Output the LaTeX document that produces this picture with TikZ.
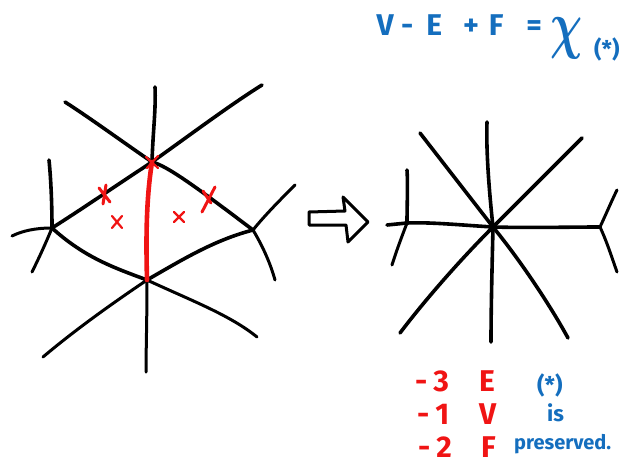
\documentclass[tikz,border=0pt]{standalone}
\usepackage{fontspec}
\setmainfont{Fira Sans}
\usetikzlibrary{calc}
\definecolor{mred}{RGB}{240,20,20}
\definecolor{mblue}{RGB}{20,110,190}
\newcommand{\gl}[1]{\makebox[0pt]{#1}}
\begin{document}
\begin{tikzpicture}[x=1pt,y=-1pt,
  edge/.style={line width=3.6pt,line cap=round,black},
  thin edge/.style={line width=3pt,line cap=round,black},
  redline/.style={line width=4.6pt,line cap=round,mred},
  redmark/.style={line width=3pt,line cap=round,mred},
  smallmark/.style={line width=2.2pt,line cap=round,mred},
  bluetxt/.style={text=mblue,inner sep=0pt,anchor=base west},
  redtxt/.style={text=mred,inner sep=0pt,anchor=base west}]
\useasboundingbox (0,0) rectangle (626,465);
% ---------- left graph ----------
\coordinate (T) at (152,162);
\coordinate (B) at (147,280);
\coordinate (L) at (52,228);
\coordinate (R) at (253,230);
\coordinate (T1) at (155,87);
\coordinate (T2) at (65,102);
\coordinate (T3) at (262,85);
\coordinate (L1) at (49,160);
\coordinate (L2) at (12,236);
\coordinate (L3) at (32,272);
\coordinate (R1) at (295,185);
\coordinate (R2) at (275,280);
\coordinate (B1) at (43,357);
\coordinate (B2) at (146,372);
\coordinate (B3) at (257,337);
\draw[edge] (T) .. controls (153,130) and (156,110) .. (T1);
\draw[edge] (T) .. controls (120,140) and (90,118) .. (T2);
\draw[edge] (T) .. controls (190,135) and (230,105) .. (T3);
\draw[edge] (T) .. controls (120,183) and (85,207) .. (L);
\draw[edge] (T) .. controls (168,166) and (200,190) .. (R);
\draw[edge] (L) .. controls (85,258) and (115,268) .. (B);
\draw[edge] (B) .. controls (185,258) and (215,240) .. (R);
\draw[edge] (L) .. controls (52,205) and (51,180) .. (L1);
\draw[thin edge] (L) .. controls (35,228) and (22,231) .. (L2);
\draw[thin edge] (L) .. controls (45,245) and (38,260) .. (L3);
\draw[thin edge] (R) .. controls (265,215) and (282,198) .. (R1);
\draw[thin edge] (R) .. controls (262,245) and (270,262) .. (R2);
\draw[thin edge] (B) .. controls (110,305) and (75,330) .. (B1);
\draw[thin edge] (B) .. controls (147,320) and (146,350) .. (B2);
\draw[thin edge] (B) .. controls (190,300) and (230,315) .. (B3);
\draw[redline] (T) .. controls (146,200) and (146,240) .. (B);
% red marks
\draw[smallmark] ($(T)+(-6,-5)$) -- ($(T)+(6,6)$) ($(T)+(6,-6)$) -- ($(T)+(-5,6)$);
\draw[redmark] (99,188) -- (110,202) (106,185) -- (103,204);
\draw[redmark] (203,191) -- (211,203) (215,187) -- (202,212);
\draw[smallmark] (112,216) -- (122,228) (122,216) -- (112,228);
\draw[smallmark] (174,212) -- (184,222) (184,212) -- (174,222);
% ---------- arrow ----------
\draw[line width=3pt,line join=round] (309,212) -- (345,211) -- (343,197) -- (368,222) -- (348,242) -- (346,225) -- (309,225) -- cycle;
% ---------- right graph ----------
\coordinate (C) at (493,227);
\coordinate (U) at (487,122);
\coordinate (D) at (491,342);
\coordinate (UL) at (420,133);
\coordinate (UR) at (582,138);
\coordinate (DL) at (400,333);
\coordinate (DR) at (568,338);
\coordinate (LE) at (387,225);
\coordinate (LV) at (407,223);
\coordinate (LV1) at (407,170);
\coordinate (LV2) at (392,265);
\coordinate (RV) at (600,227);
\coordinate (RV1) at (617,190);
\coordinate (RV2) at (617,272);
\draw[edge] (C) .. controls (489,190) and (486,150) .. (U);
\draw[edge] (C) .. controls (492,270) and (491,310) .. (D);
\draw[edge] (C) -- (UL);
\draw[edge] (C) -- (UR);
\draw[edge] (C) .. controls (460,260) and (425,300) .. (DL);
\draw[edge] (C) .. controls (520,260) and (550,305) .. (DR);
\draw[edge] (C) .. controls (460,225) and (430,222) .. (LV) -- (LE);
\draw[edge] (LV) .. controls (407,205) and (408,185) .. (LV1);
\draw[thin edge] (LV) .. controls (402,236) and (396,252) .. (LV2);
\draw[edge] (C) .. controls (530,228) and (570,227) .. (RV);
\draw[thin edge] (RV) .. controls (607,212) and (612,200) .. (RV1);
\draw[thin edge] (RV) .. controls (607,242) and (612,258) .. (RV2);
\fill (C) circle (3.5pt);
% ---------- texts ----------
\node[bluetxt,font=\bfseries\fontsize{30}{32}\selectfont] (eq) at (375,36)
  {\hspace{10pt}\gl{V}\hspace{22pt}\gl{-}\hspace{27pt}\gl{E}\hspace{37pt}\gl{+}\hspace{25pt}\gl{F}\hspace{38pt}\gl{=}};
\node[text=mblue,inner sep=0pt,font=\Huge\boldmath] (chi) at (567,38) {\scalebox{1.8}[2.6]{$\chi$}};
\node[bluetxt,font=\bfseries\fontsize{23}{25}\selectfont] (star1) at (594,58) {(*)};
\node[redtxt,font=\bfseries\fontsize{30}{32}\selectfont] (m3) at (415,391) {-\hspace{6pt}3};
\node[redtxt,font=\bfseries\fontsize{30}{32}\selectfont] (E) at (479,391) {E};
\node[redtxt,font=\bfseries\fontsize{30}{32}\selectfont] (m1) at (417,424) {-\hspace{6pt}1};
\node[redtxt,font=\bfseries\fontsize{30}{32}\selectfont] (V) at (479,424) {V};
\node[redtxt,font=\bfseries\fontsize{30}{32}\selectfont] (m2) at (418,457) {-\hspace{6pt}2};
\node[redtxt,font=\bfseries\fontsize{30}{32}\selectfont] (F) at (481,457) {F};
\node[bluetxt,font=\bfseries\fontsize{23}{25}\selectfont] (star2) at (537,393) {(*)};
\node[bluetxt,font=\bfseries\fontsize{22}{24}\selectfont] (is) at (547,421) {is};
\node[bluetxt,font=\bfseries\fontsize{20}{22}\selectfont] (pres) at (514,449) {preserved.};
\end{tikzpicture}
\end{document}
